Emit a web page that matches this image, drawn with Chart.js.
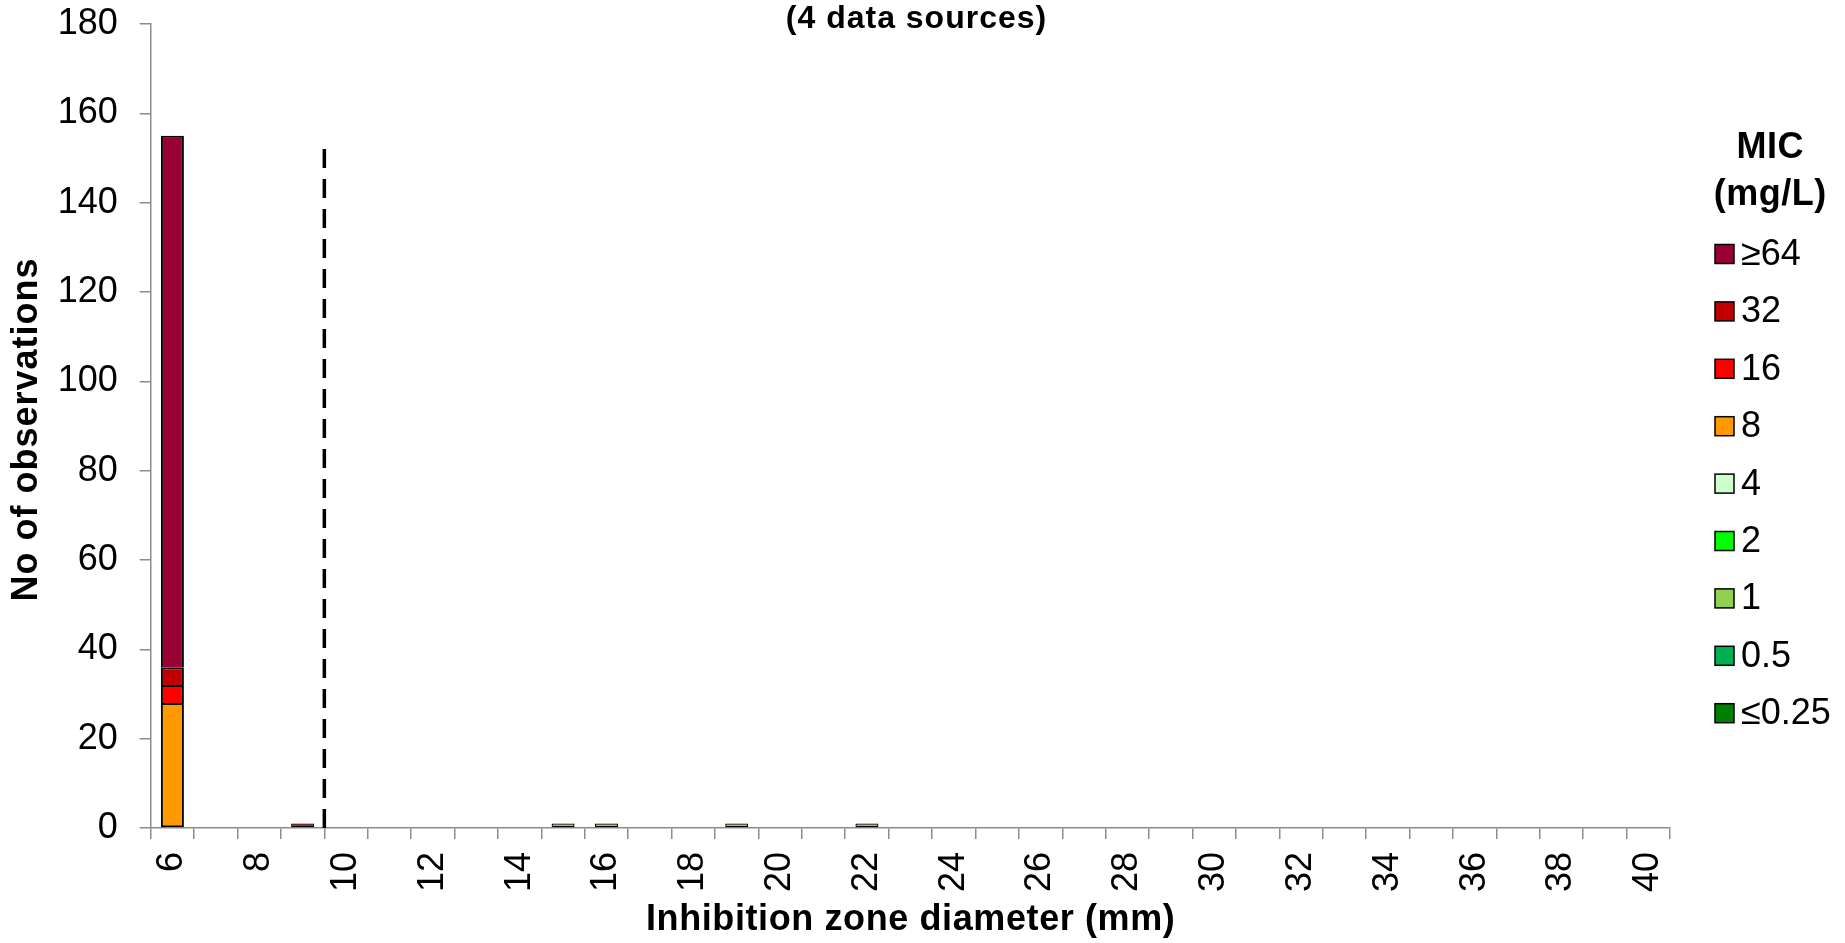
<!DOCTYPE html>
<html>
<head>
<meta charset="utf-8">
<script src="https://cdn.jsdelivr.net/npm/chart.js@4.4.1/dist/chart.umd.min.js"></script>
<style>
  html, body { margin: 0; padding: 0; background: #fff; overflow: hidden; }
  #wrap { position: relative; width: 1845px; height: 943px; }
</style>
</head>
<body>
<div id="wrap"><canvas id="chart" width="1845" height="943"></canvas></div>
<script>
// Inhibition zone diameter categories (mm)
const zoneDiameters = [6, 7, 8, 9, 10, 11, 12, 13, 14, 15, 16, 17, 18, 19, 20, 21, 22, 23,
                       24, 25, 26, 27, 28, 29, 30, 31, 32, 33, 34, 35, 36, 37, 38, 39, 40];
const xTickLabels = ['6', '', '8', '', '10', '', '12', '', '14', '', '16', '', '18', '', '20', '', '22', '',
                     '24', '', '26', '', '28', '', '30', '', '32', '', '34', '', '36', '', '38', '', '40'];
const yTicks = [0, 20, 40, 60, 80, 100, 120, 140, 160, 180];

// MIC classes (mg/L), bottom of the stack first
const micLabels = ['≤0.25', '0.5', '1', '2', '4', '8', '16', '32', '≥64'];
const micColors = ['#008000', '#00B050', '#92D050', '#00FF00', '#CCFFCC', '#FF9900', '#FF0000', '#C00000', '#990033'];

// Number of observations per zone diameter for each MIC class
//                 6  7  8  9 10 11 12 13 14 15 16 17 18 19 20 21 22 23 24 25 26 27 28 29 30 31 32 33 34 35 36 37 38 39 40
const micLe025 =  [0, 0, 0, 0, 0, 0, 0, 0, 0, 0, 0, 0, 0, 0, 0, 0, 0, 0, 0, 0, 0, 0, 0, 0, 0, 0, 0, 0, 0, 0, 0, 0, 0, 0, 0];
const mic05 =     [0, 0, 0, 0, 0, 0, 0, 0, 0, 0, 0, 0, 0, 0, 0, 0, 0, 0, 0, 0, 0, 0, 0, 0, 0, 0, 0, 0, 0, 0, 0, 0, 0, 0, 0];
const mic1 =      [0, 0, 0, 0, 0, 0, 0, 0, 0, 1, 1, 0, 0, 1, 0, 0, 1, 0, 0, 0, 0, 0, 0, 0, 0, 0, 0, 0, 0, 0, 0, 0, 0, 0, 0];
const mic2 =      [0, 0, 0, 0, 0, 0, 0, 0, 0, 0, 0, 0, 0, 0, 0, 0, 0, 0, 0, 0, 0, 0, 0, 0, 0, 0, 0, 0, 0, 0, 0, 0, 0, 0, 0];
const mic4 =      [0, 0, 0, 0, 0, 0, 0, 0, 0, 0, 0, 0, 0, 0, 0, 0, 0, 0, 0, 0, 0, 0, 0, 0, 0, 0, 0, 0, 0, 0, 0, 0, 0, 0, 0];
const mic8 =      [28, 0, 0, 0, 0, 0, 0, 0, 0, 0, 0, 0, 0, 0, 0, 0, 0, 0, 0, 0, 0, 0, 0, 0, 0, 0, 0, 0, 0, 0, 0, 0, 0, 0, 0];
const mic16 =     [4, 0, 0, 1, 0, 0, 0, 0, 0, 0, 0, 0, 0, 0, 0, 0, 0, 0, 0, 0, 0, 0, 0, 0, 0, 0, 0, 0, 0, 0, 0, 0, 0, 0, 0];
const mic32 =     [4, 0, 0, 0, 0, 0, 0, 0, 0, 0, 0, 0, 0, 0, 0, 0, 0, 0, 0, 0, 0, 0, 0, 0, 0, 0, 0, 0, 0, 0, 0, 0, 0, 0, 0];
const micGe64 =   [119, 0, 0, 0, 0, 0, 0, 0, 0, 0, 0, 0, 0, 0, 0, 0, 0, 0, 0, 0, 0, 0, 0, 0, 0, 0, 0, 0, 0, 0, 0, 0, 0, 0, 0];
const micSeries = [micLe025, mic05, mic1, mic2, mic4, mic8, mic16, mic32, micGe64];

// Zone diameter breakpoint (dashed line at the lower edge of this category) and its drawn height
const breakpointZone = 10;
const breakpointLineTop = 152;

const FONT = "'Liberation Sans', Arial, Helvetica, sans-serif";
const AXIS_GREY = '#8c8c8c';

Chart.defaults.font.family = FONT;
Chart.defaults.color = '#000';

// Outline each stacked segment once: sides and top, plus the bottom edge for the lowest segment
function segmentBorder(ctx) {
  if (ctx.type !== 'data') return 2;
  const i = ctx.dataIndex, d = ctx.datasetIndex;
  let below = 0;
  for (let k = 0; k < d; k++) below += micSeries[k][i];
  const w = ctx.raw < 3 ? 1.3 : 2;
  return { top: w, left: w, right: w, bottom: below === 0 ? w : 0 };
}

const datasets = micLabels.map((label, i) => ({
  label: label,
  data: micSeries[i],
  backgroundColor: micColors[i],
  borderColor: '#000',
  borderWidth: segmentBorder,
  borderSkipped: false,
  barPercentage: 0.53,
  categoryPercentage: 1.0
}));

function spacedText(ctx, text, x, y, spacing) {
  ctx.letterSpacing = spacing + 'px';
  ctx.fillText(text, x + spacing / 2, y);
  ctx.letterSpacing = '0px';
}

const decorations = {
  id: 'decorations',
  afterDatasetsDraw(chart) {
    const ctx = chart.ctx;
    const xs = chart.scales.x, ys = chart.scales.y;
    // breakpoint line
    const bx = xs.getPixelForValue(zoneDiameters.indexOf(breakpointZone) - 0.5);
    ctx.save();
    ctx.strokeStyle = '#000';
    ctx.lineWidth = 3.5;
    ctx.setLineDash([19, 11]);
    ctx.beginPath();
    ctx.moveTo(bx, ys.getPixelForValue(breakpointLineTop));
    ctx.lineTo(bx, ys.getPixelForValue(0));
    ctx.stroke();
    ctx.restore();
  },
  afterDraw(chart) {
    const ctx = chart.ctx;
    const area = chart.chartArea;
    ctx.save();
    ctx.fillStyle = '#000';
    ctx.textBaseline = 'middle';
    ctx.textAlign = 'center';

    // title
    ctx.font = 'bold 32px ' + FONT;
    spacedText(ctx, '(4 data sources)', 916, 19, 1);

    // x axis title
    ctx.font = 'bold 36px ' + FONT;
    spacedText(ctx, 'Inhibition zone diameter (mm)', (area.left + area.right) / 2, 920, 0.6);

    // y axis title
    ctx.save();
    ctx.translate(27, (area.top + area.bottom) / 2 + 4);
    ctx.rotate(-Math.PI / 2);
    spacedText(ctx, 'No of observations', 0, 0, 1);
    ctx.restore();

    // legend
    ctx.font = 'bold 36px ' + FONT;
    spacedText(ctx, 'MIC', 1770, 148, 0.5);
    spacedText(ctx, '(mg/L)', 1770, 195, 0.5);

    ctx.font = '36px ' + FONT;
    ctx.textAlign = 'left';
    const items = chart.data.datasets.slice().reverse();
    items.forEach((ds, i) => {
      const cy = 254 + i * 57.4;
      ctx.fillStyle = ds.backgroundColor;
      ctx.fillRect(1715, cy - 9.5, 19, 19);
      ctx.strokeStyle = '#000';
      ctx.lineWidth = 1.5;
      ctx.strokeRect(1715, cy - 9.5, 19, 19);
      ctx.fillStyle = '#000';
      ctx.fillText(ds.label, 1741, cy + 1);
    });
    ctx.restore();
  }
};

new Chart(document.getElementById('chart'), {
  type: 'bar',
  data: { labels: zoneDiameters.map(String), datasets: datasets },
  options: {
    responsive: false,
    animation: false,
    devicePixelRatio: 1,
    layout: { padding: { left: 0, right: 175, top: 24, bottom: 0 } },
    plugins: {
      legend: { display: false },
      title: { display: false },
      tooltip: { enabled: false }
    },
    scales: {
      x: {
        stacked: true,
        offset: true,
        grid: { offset: true, drawOnChartArea: false, drawTicks: true, tickLength: 11, color: AXIS_GREY, lineWidth: 1.5 },
        border: { display: true, color: AXIS_GREY, width: 1.5 },
        ticks: {
          autoSkip: false,
          minRotation: 90,
          maxRotation: 90,
          padding: 13,
          color: '#000',
          font: { size: 36 },
          callback: (value, index) => xTickLabels[index]
        },
        afterFit: (scale) => {
          scale.height = 115;
          scale.paddingLeft = 0; scale.paddingRight = 0;
        }
      },
      y: {
        stacked: true,
        min: yTicks[0],
        max: yTicks[yTicks.length - 1],
        afterBuildTicks: (scale) => { scale.ticks = yTicks.map(v => ({ value: v })); },
        grid: { drawOnChartArea: false, drawTicks: true, tickLength: 11, color: AXIS_GREY, lineWidth: 1.5 },
        border: { display: true, color: AXIS_GREY, width: 1.5 },
        ticks: { padding: 22, color: '#000', font: { size: 36 } },
        afterFit: (scale) => {
          scale.width = 150.7;
          scale.paddingTop = 0; scale.paddingBottom = 0;
        }
      }
    }
  },
  plugins: [decorations]
});
</script>
</body>
</html>
